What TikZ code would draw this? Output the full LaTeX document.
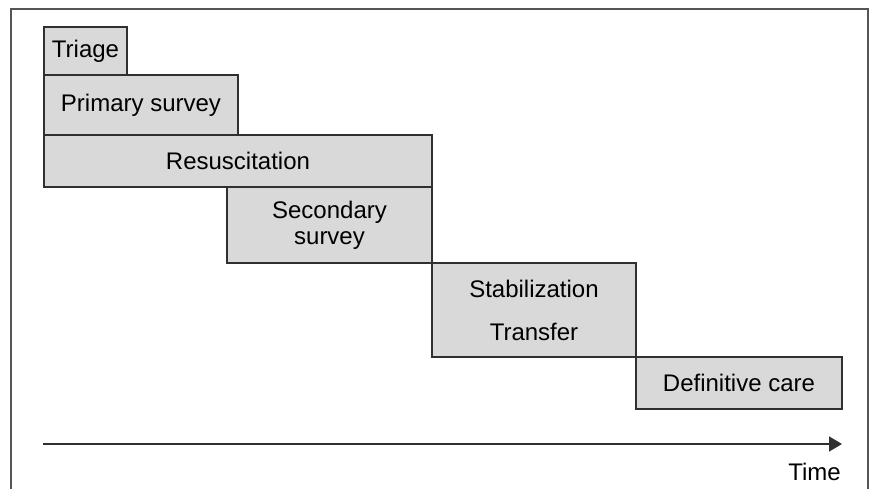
\documentclass[tikz,border=0pt]{standalone}
\usepackage{fontspec}
\setmainfont{Liberation Sans}
\usetikzlibrary{arrows.meta}
\definecolor{boxfill}{HTML}{D9D9D9}
\definecolor{boxline}{HTML}{303030}
\definecolor{frameline}{HTML}{555555}
\begin{document}
\begin{tikzpicture}[x=1pt,y=-1pt,
  phase/.style={draw=boxline,line width=1.6pt,fill=boxfill},
  lbl/.style={font=\fontsize{24}{26}\selectfont,text=black,inner sep=0pt},
]
\useasboundingbox (0,0) rectangle (875,489);
% frame (open at bottom)
\draw[frameline,line width=1.3pt] (11,489) -- (11,9) -- (868,9) -- (868,489);
% boxes
\draw[phase] (44,27) rectangle (127,75);
\draw[phase] (44,75) rectangle (238,135);
\draw[phase] (44,135) rectangle (432,187);
\draw[phase] (227,187) rectangle (432,263);
\draw[phase] (432,263) rectangle (636,357);
\draw[phase] (636,357) rectangle (842,409);
% labels
\node[lbl] (triage) at (85.5,51) {Triage};
\node[lbl] (primary) at (141,105) {Primary survey};
\node[lbl] (resus) at (238,161) {Resuscitation};
\node[lbl,align=center,font=\fontsize{24}{26}\selectfont] (secondary) at (329.5,225) {Secondary\\survey};
\node[lbl,anchor=base] (stab) at (534,297) {Stabilization};
\node[lbl,anchor=base] (transfer) at (534,340) {Transfer};
\node[lbl] (definitive) at (739,383) {Definitive care};
% time axis
\coordinate (t0) at (43,444);
\coordinate (t1) at (842,444);
\draw[boxline,line width=1.6pt,-{Triangle[length=13pt,width=15pt]}] (t0) -- (t1);
\node[lbl,anchor=base east] (time) at (841,480) {Time};
\end{tikzpicture}
\end{document}
